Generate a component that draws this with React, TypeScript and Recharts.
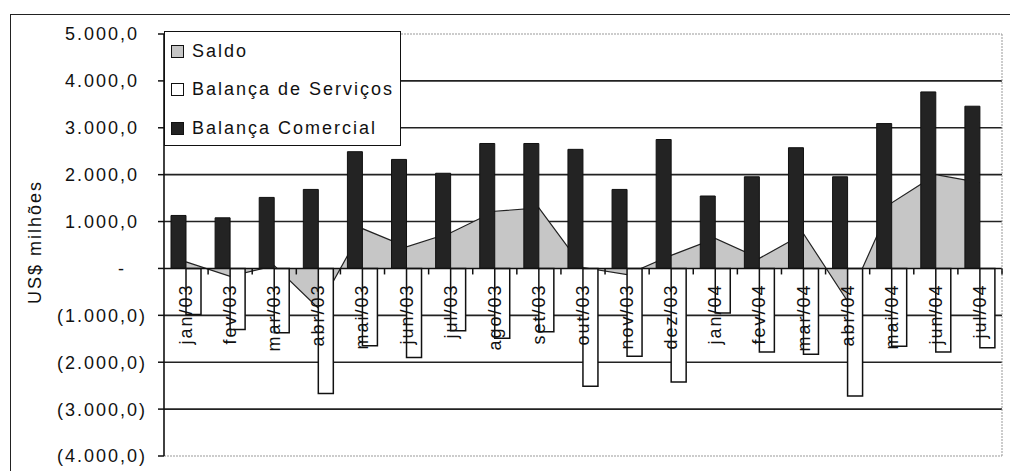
import { Area, Bar, CartesianGrid, ComposedChart, Legend, ReferenceLine, XAxis, YAxis } from 'recharts';

const meses = ['jan/03', 'fev/03', 'mar/03', 'abr/03', 'mai/03', 'jun/03', 'jul/03', 'ago/03', 'set/03', 'out/03', 'nov/03', 'dez/03', 'jan/04', 'fev/04', 'mar/04', 'abr/04', 'mai/04', 'jun/04', 'jul/04'];
const saldo = [140, -170, 60, -850, 850, 460, 760, 1220, 1290, 20, -130, 280, 640, 215, 740, -700, 1400, 2000, 1830];
const servicos = [-980, -1300, -1370, -2665, -1650, -1900, -1330, -1490, -1350, -2510, -1870, -2420, -950, -1780, -1830, -2720, -1660, -1780, -1690];
const comercial = [1130, 1080, 1515, 1685, 2490, 2325, 2030, 2665, 2665, 2540, 1685, 2750, 1545, 1955, 2575, 1955, 3090, 3765, 3460];
const yTicks = [5000, 4000, 3000, 2000, 1000, 0, -1000, -2000, -3000, -4000];
const gridValues = [4000, 3000, 2000, 1000, -1000, -2000, -3000];
const legendOrder = ['Saldo', 'Balança de Serviços', 'Balança Comercial'];

const W = 1010;
const H = 471;
const PLOT = { left: 164, top: 34, right: 1002, bottom: 456 };
const Y_MIN = -4000;
const Y_MAX = 5000;
const BAND = (PLOT.right - PLOT.left) / meses.length;
const ZERO_Y = PLOT.top + ((PLOT.bottom - PLOT.top) * Y_MAX) / (Y_MAX - Y_MIN);

const font = { fontFamily: "'Liberation Sans', Arial, sans-serif", fontSize: 18, letterSpacing: 2, fill: '#111' };

const data = meses.map((m, i) => ({
  mes: m,
  Saldo: saldo[i],
  'Balança de Serviços': servicos[i],
  'Balança Comercial': comercial[i],
}));

// 5.000,0 / (1.000,0) / -
function fmt(v: number) {
  if (v === 0) return '-';
  const [int, dec] = Math.abs(v).toFixed(1).split('.');
  const s = int.replace(/\B(?=(\d{3})+(?!\d))/g, '.') + ',' + dec;
  return v < 0 ? `(${s})` : s;
}

function ValueTick({ x, y, payload }: any) {
  const v = payload.value;
  const pad = v > 0 ? 8 : v === 0 ? 21 : 0;
  return (
    <text x={x - pad} y={y} dy="0.36em" textAnchor="end" style={font}>
      {fmt(v)}
    </text>
  );
}

function MonthTick({ x, payload }: any) {
  return (
    <g>
      <line x1={x + BAND / 2} x2={x + BAND / 2} y1={ZERO_Y} y2={ZERO_Y + 6} stroke="#111" strokeWidth={1.5} />
      <text transform={`translate(${x},${ZERO_Y + 15}) rotate(-90)`} textAnchor="end" dominantBaseline="central" style={font}>
        {payload.value}
      </text>
    </g>
  );
}

function AxisTitle({ viewBox }: any) {
  const cx = viewBox.x + 21;
  const cy = viewBox.y + viewBox.height / 2 - 3;
  return (
    <text transform={`translate(${cx},${cy}) rotate(-90)`} textAnchor="middle" dominantBaseline="central" style={font}>
      US$ milhões
    </text>
  );
}

const swatch: Record<string, string> = {
  Saldo: '#c6c6c6',
  'Balança de Serviços': '#ffffff',
  'Balança Comercial': '#222222',
};

function LegendBox() {
  return (
    <div style={{ position: 'relative', width: 237, height: 115, border: '1.5px solid #111', background: '#fff', boxSizing: 'border-box' }}>
      {legendOrder.map((name, i) => (
        <div key={name} style={{ position: 'absolute', left: 6, top: 7 + i * 38.5, height: 24, display: 'flex', alignItems: 'center' }}>
          <span style={{ width: 11, height: 11, background: swatch[name], border: '1px solid #111', marginRight: 8 }} />
          <span style={{ fontFamily: font.fontFamily, fontSize: 18, letterSpacing: 2, color: '#111', whiteSpace: 'nowrap' }}>{name}</span>
        </div>
      ))}
    </div>
  );
}

export default function App() {
  return (
    <div style={{ position: 'absolute', left: 0, top: 0, width: W, height: H, overflow: 'hidden', background: '#fff' }}>
      <div style={{ position: 'absolute', left: 10, top: 14, width: 1100, height: 600, border: '1.5px solid #222' }} />
      <ComposedChart
        width={W}
        height={H}
        data={data}
        barGap={0}
        margin={{ left: PLOT.left - 150, right: W - PLOT.right - 1, top: PLOT.top, bottom: H - PLOT.bottom - 1 }}
      >
        <CartesianGrid horizontal vertical={false} horizontalValues={gridValues} stroke="#222" strokeWidth={1.6} />
        <Area
          type="linear"
          dataKey="Saldo"
          fill="#c6c6c6"
          fillOpacity={1}
          stroke="#222"
          strokeWidth={1.2}
          dot={false}
          activeDot={false}
          isAnimationActive={false}
        />
        <Bar dataKey="Balança Comercial" barSize={15} fill="#232323" stroke="#111" strokeWidth={1} isAnimationActive={false} />
        <Bar dataKey="Balança de Serviços" barSize={15} fill="#ffffff" stroke="#111" strokeWidth={1.5} isAnimationActive={false} />
        <ReferenceLine y={0} stroke="#111" strokeWidth={1.6} />
        <ReferenceLine y={Y_MAX} stroke="#999" strokeDasharray="2 1" />
        <ReferenceLine y={Y_MIN} stroke="#999" strokeDasharray="2 1" />
        <YAxis
          type="number"
          domain={[Y_MIN, Y_MAX]}
          ticks={yTicks}
          interval={0}
          width={150}
          tickSize={6}
          tickMargin={11}
          axisLine={{ stroke: '#111', strokeWidth: 1.6 }}
          tickLine={{ stroke: '#111', strokeWidth: 1.5 }}
          tick={<ValueTick />}
          label={<AxisTitle />}
        />
        <YAxis
          yAxisId="borda"
          orientation="right"
          type="number"
          domain={[Y_MIN, Y_MAX]}
          width={1}
          tick={false}
          tickLine={false}
          axisLine={{ stroke: '#999', strokeDasharray: '2 1' }}
        />
        <XAxis dataKey="mes" type="category" height={1} interval={0} tickSize={0} tickMargin={0} axisLine={false} tickLine={false} tick={<MonthTick />} />
        <Legend
          layout="vertical"
          align="center"
          verticalAlign="middle"
          content={<LegendBox />}
          wrapperStyle={{ left: PLOT.left, top: 31, width: 237, height: 115 }}
        />
      </ComposedChart>
    </div>
  );
}
